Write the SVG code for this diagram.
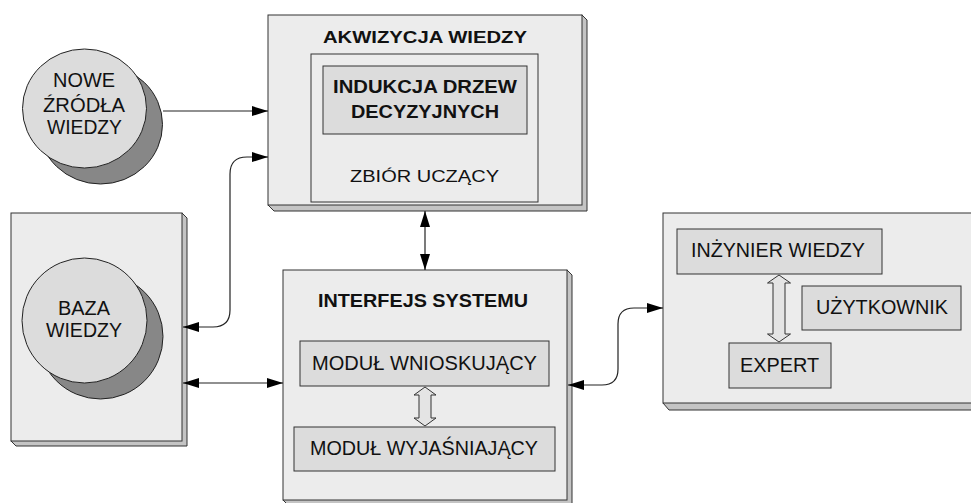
<svg xmlns="http://www.w3.org/2000/svg" width="971" height="503" viewBox="0 0 971 503">
<defs>
<marker id="ah" markerUnits="userSpaceOnUse" markerWidth="16" markerHeight="10" refX="16" refY="5" orient="auto-start-reverse" viewBox="0 0 16 10">
<path d="M0,0 L16,5 L0,10 z" fill="#000"/>
</marker>
<style>
.outer{fill:#ececec;stroke:#333;stroke-width:1}
.shadow{fill:#c4c4c4;stroke:#333;stroke-width:1}
.inner{fill:#dcdcdc;stroke:#333;stroke-width:1}
.plain{fill:none;stroke:#333;stroke-width:1}
.cfront{fill:#dcdcdc;stroke:#222;stroke-width:1}
.cback{fill:#878787;stroke:#222;stroke-width:1}
.t{font-family:"Liberation Sans",Arial,sans-serif;font-size:19.5px;fill:#111;text-anchor:middle}
.b{font-family:"Liberation Sans",Arial,sans-serif;font-size:18px;font-weight:bold;fill:#111;text-anchor:middle}
.conn{fill:none;stroke:#222;stroke-width:1.2;marker-start:url(#ah);marker-end:url(#ah)}
.dbl{fill:#e4e4e4;stroke:#333;stroke-width:1}
</style>
</defs>
<rect width="971" height="503" fill="#fff"/>

<g id="nowe-zrodla">
<ellipse class="cback" cx="100.5" cy="124.5" rx="62" ry="59.5"/>
<ellipse class="cfront" cx="84.5" cy="108.5" rx="62" ry="59.5"/>
<text class="t" x="84" y="87" textLength="62" lengthAdjust="spacingAndGlyphs">NOWE</text>
<text class="t" x="84" y="112" textLength="82" lengthAdjust="spacingAndGlyphs">ŹRÓDŁA</text>
<text class="t" x="84.5" y="134" textLength="75" lengthAdjust="spacingAndGlyphs">WIEDZY</text>
</g>

<g id="akwizycja">
<polygon class="shadow" points="582,15 587,20 587,211 274,211 268,205"/>
<rect class="outer" x="268" y="15" width="314" height="190"/>
<text class="b" x="425" y="43" style="font-size:16.5px" textLength="204" lengthAdjust="spacingAndGlyphs">AKWIZYCJA WIEDZY</text>
<rect class="plain" x="311" y="54" width="227" height="148"/>
<text class="t" x="424.5" y="182" style="font-size:17px" textLength="149" lengthAdjust="spacingAndGlyphs">ZBIÓR UCZĄCY</text>
</g>

<g id="indukcja">
<rect class="inner" x="323" y="66" width="204" height="68"/>
<text class="b" x="425" y="93" textLength="184" lengthAdjust="spacingAndGlyphs">INDUKCJA DRZEW</text>
<text class="b" x="425" y="118" textLength="148" lengthAdjust="spacingAndGlyphs">DECYZYJNYCH</text>
</g>

<g id="baza">
<polygon class="shadow" points="182,213 187,218 187,446 16,446 11,441"/>
<rect class="outer" x="11" y="213" width="171" height="228"/>
<ellipse class="cback" cx="100.5" cy="336.5" rx="62.5" ry="62.5"/>
<ellipse class="cfront" cx="84.5" cy="320.5" rx="62.5" ry="62.5"/>
<text class="t" x="84" y="315" textLength="52" lengthAdjust="spacingAndGlyphs">BAZA</text>
<text class="t" x="84" y="337" textLength="76" lengthAdjust="spacingAndGlyphs">WIEDZY</text>
</g>

<g id="interfejs">
<polygon class="shadow" points="567,270 572,275 572,505 288,505 283,500"/>
<rect class="outer" x="283" y="270" width="284" height="230"/>
<text class="b" x="423" y="307" textLength="210" lengthAdjust="spacingAndGlyphs">INTERFEJS SYSTEMU</text>
</g>

<g id="modul-wnioskujacy">
<rect class="inner" x="300" y="341" width="249" height="45"/>
<text class="t" x="424.5" y="370" textLength="225" lengthAdjust="spacingAndGlyphs">MODUŁ WNIOSKUJĄCY</text>
</g>

<g id="modul-wyjasniajacy">
<rect class="inner" x="294" y="427" width="261" height="44"/>
<text class="t" x="424" y="455" textLength="228" lengthAdjust="spacingAndGlyphs">MODUŁ WYJAŚNIAJĄCY</text>
</g>

<g id="uzytkownicy">
<polygon class="shadow" points="980,213 985,218 985,410 669,410 663,403"/>
<rect class="outer" x="663" y="213" width="320" height="190"/>
</g>

<g id="inzynier">
<rect class="inner" x="677" y="229" width="205" height="45"/>
<text class="t" x="778" y="257" textLength="174" lengthAdjust="spacingAndGlyphs">INŻYNIER WIEDZY</text>
</g>

<g id="uzytkownik">
<rect class="inner" x="802" y="286" width="159" height="44"/>
<text class="t" x="882" y="314" textLength="132" lengthAdjust="spacingAndGlyphs">UŻYTKOWNIK</text>
</g>

<g id="expert">
<rect class="inner" x="729" y="343" width="102" height="45"/>
<text class="t" x="779.5" y="372" textLength="79" lengthAdjust="spacingAndGlyphs">EXPERT</text>
</g>

<g id="connectors">
<path d="M163,111 H268" fill="none" stroke="#222" stroke-width="1.2" marker-end="url(#ah)"/>
<path class="conn" d="M268,157 H247 Q230,157 230,174 V310 Q230,327 213,327 H183"/>
<path class="conn" d="M183,383 H283"/>
<path class="conn" d="M425,211 V270"/>
<path class="conn" d="M568,385 H602 Q618,385 618,369 V324 Q618,308 634,308 H663"/>
<polygon class="dbl" points="425,387 436,395 431,395 431,418 436,418 425,426 414,418 419,418 419,395 414,395"/>
<polygon class="dbl" points="779,275 790.5,283 785,283 785,334 790.5,334 779,342 767.5,334 773,334 773,283 767.5,283"/>
</g>
</svg>
